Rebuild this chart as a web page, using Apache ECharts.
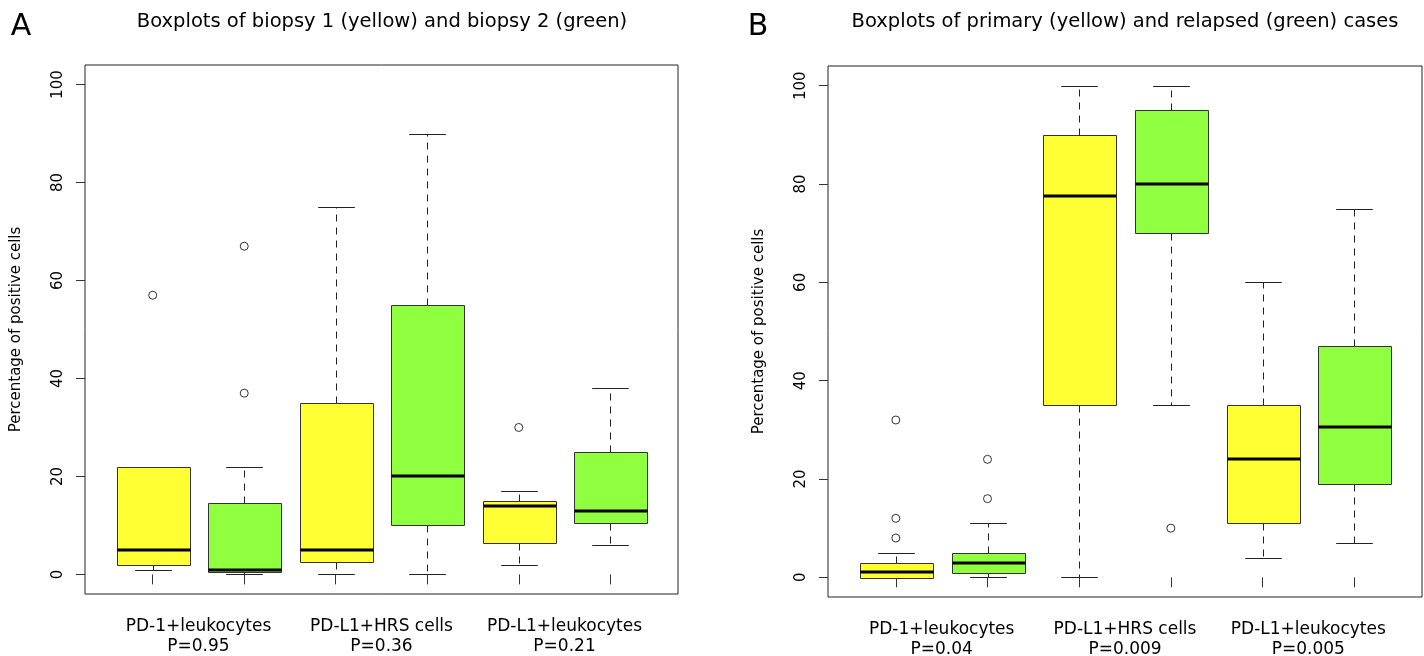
<!DOCTYPE html>
<html><head><meta charset="utf-8">
<script src="https://cdn.jsdelivr.net/npm/echarts@6/dist/echarts.min.js"></script>
<style>html,body{margin:0;padding:0;background:#fff}#c{width:1424px;height:656px}</style>
</head><body><div id="c"></div>
<script>
// ---- data ----
const categories = ['PD-1+leukocytes', 'PD-L1+HRS cells', 'PD-L1+leukocytes'];
const pValuesA = ['P=0.95', 'P=0.36', 'P=0.21'];
const pValuesB = ['P=0.04', 'P=0.009', 'P=0.005'];
const yTicks = [0, 20, 40, 60, 80, 100];
const titleA = 'Boxplots of biopsy 1 (yellow) and biopsy 2 (green)';
const titleB = 'Boxplots of primary (yellow) and relapsed (green) cases';
const yName = 'Percentage of positive cells';
// [lower whisker, Q1, median, Q3, upper whisker]; order: yellow, green, yellow, green, ...
const boxesA = [
  [1, 2, 5, 22, 22],
  [0, 0.5, 1, 14.5, 22],
  [0, 2.5, 5, 35, 75],
  [0, 10, 20, 55, 90],
  [2, 6.5, 14, 15, 17],
  [6, 10.5, 13, 25, 38]
];
const outliersA = [[1, 57], [2, 37], [2, 67], [5, 30]];
const boxesB = [
  [0, 0, 1, 3, 5],
  [0, 1, 3, 5, 11],
  [0, 35, 77.5, 90, 100],
  [35, 70, 80, 95, 100],
  [4, 11, 24, 35, 60],
  [7, 19, 30.5, 47, 75]
];
const outliersB = [[1, 32], [1, 12], [1, 8], [2, 24], [2, 16], [4, 10]];

// ---- styles ----
const YELLOW = '#ffff33';
const GREEN = '#8fff3f';
const FONT = 'DejaVu Sans';
const XMIN = 0.26, XMAX = 6.74;

function renderBox(params, api) {
  const x = api.value(0);
  const lo = api.coord([x, api.value(1)]);
  const q1 = api.coord([x, api.value(2)]);
  const md = api.coord([x, api.value(3)]);
  const q3 = api.coord([x, api.value(4)]);
  const hi = api.coord([x, api.value(5)]);
  const half = api.size([0.4, 0])[0];
  const cx = Math.round(lo[0]) + 0.5;
  const fill = (x % 2 === 1) ? YELLOW : GREEN;
  const r = v => Math.round(v) + 0.5;
  const line = (x1, y1, x2, y2, extra) => ({
    type: 'line',
    shape: { x1: x1, y1: y1, x2: x2, y2: y2 },
    style: Object.assign({ stroke: '#222', lineWidth: 1 }, extra || {})
  });
  return {
    type: 'group',
    children: [
      line(cx, r(q1[1]), cx, r(lo[1]), { lineDash: [7, 6] }),
      line(cx, r(q3[1]), cx, r(hi[1]), { lineDash: [7, 6] }),
      line(cx - half / 2, r(lo[1]), cx + half / 2, r(lo[1])),
      line(cx - half / 2, r(hi[1]), cx + half / 2, r(hi[1])),
      {
        type: 'rect',
        shape: { x: r(cx - half), y: r(q3[1]), width: Math.round(2 * half), height: Math.round(q1[1] - q3[1]) },
        style: { fill: fill, stroke: '#333', lineWidth: 1 }
      },
      line(r(cx - half), Math.round(md[1]), r(cx + half), Math.round(md[1]), { stroke: '#000', lineWidth: 3 })
    ]
  };
}

function xAxisFor(gridIndex, pvals) {
  return {
    gridIndex: gridIndex, type: 'value', min: XMIN, max: XMAX,
    axisLine: { show: false }, splitLine: { show: false },
    axisTick: { show: true, customValues: [1, 2, 3, 4, 5, 6], length: 10, lineStyle: { color: '#333' } },
    axisLabel: {
      show: true, customValues: [1.5, 3.5, 5.5], margin: 23,
      fontFamily: FONT, fontSize: 17, lineHeight: 20, color: '#000',
      formatter: function (v) {
        const k = Math.round((v - 1.5) / 2);
        return categories[k] + '\n' + pvals[k];
      }
    }
  };
}
function yAxisFor(gridIndex) {
  return {
    gridIndex: gridIndex, type: 'value', min: -4, max: 104,
    axisLine: { show: false }, splitLine: { show: false },
    axisTick: { show: true, customValues: yTicks, length: 9, lineStyle: { color: '#333' } },
    axisLabel: { show: true, customValues: yTicks, rotate: 90, margin: 19, fontFamily: FONT, fontSize: 15, color: '#000' },
    name: yName, nameLocation: 'middle', nameRotate: 90, nameGap: 61,
    nameTextStyle: { fontFamily: FONT, fontSize: 15, color: '#000' }
  };
}

const chart = echarts.init(document.getElementById('c'), null, { renderer: 'canvas' });
chart.setOption({
  animation: false,
  backgroundColor: '#fff',
  grid: [
    { left: 85, top: 65, width: 593, height: 529, show: true, borderColor: '#222', borderWidth: 1, backgroundColor: 'transparent', containLabel: false, outerBoundsMode: 'none' },
    { left: 828, top: 66, width: 594, height: 531, show: true, borderColor: '#222', borderWidth: 1, backgroundColor: 'transparent', containLabel: false, outerBoundsMode: 'none' }
  ],
  xAxis: [xAxisFor(0, pValuesA), xAxisFor(1, pValuesB)],
  yAxis: [yAxisFor(0), yAxisFor(1)],
  graphic: [
    { type: 'text', x: 21, y: 27, style: { text: 'A', fontFamily: FONT, fontSize: 30, fill: '#000', align: 'center', verticalAlign: 'middle', textAlign: 'center', textVerticalAlign: 'middle' } },
    { type: 'text', x: 382, y: 22, style: { text: titleA, fontFamily: FONT, fontSize: 19.5, fill: '#000', align: 'center', verticalAlign: 'middle', textAlign: 'center', textVerticalAlign: 'middle' } },
    { type: 'text', x: 758, y: 27, style: { text: 'B', fontFamily: FONT, fontSize: 30, fill: '#000', align: 'center', verticalAlign: 'middle', textAlign: 'center', textVerticalAlign: 'middle' } },
    { type: 'text', x: 1125, y: 22, style: { text: titleB, fontFamily: FONT, fontSize: 19.5, fill: '#000', align: 'center', verticalAlign: 'middle', textAlign: 'center', textVerticalAlign: 'middle' } }
  ],
  series: [
    { type: 'custom', xAxisIndex: 0, yAxisIndex: 0, renderItem: renderBox, data: boxesA.map((b, i) => [i + 1].concat(b)), clip: false },
    { type: 'scatter', xAxisIndex: 0, yAxisIndex: 0, data: outliersA, symbol: 'circle', symbolSize: 8,
      itemStyle: { color: 'transparent', borderColor: '#000', borderWidth: 1 } },
    { type: 'custom', xAxisIndex: 1, yAxisIndex: 1, renderItem: renderBox, data: boxesB.map((b, i) => [i + 1].concat(b)), clip: false },
    { type: 'scatter', xAxisIndex: 1, yAxisIndex: 1, data: outliersB, symbol: 'circle', symbolSize: 8,
      itemStyle: { color: 'transparent', borderColor: '#000', borderWidth: 1 } }
  ]
});
</script></body></html>
